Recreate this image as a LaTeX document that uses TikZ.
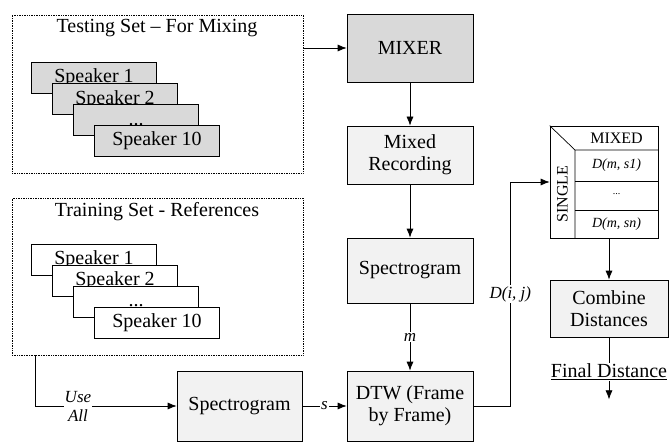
\documentclass[tikz,border=0pt]{standalone}
\usepackage{fontspec}
\setmainfont{LiberationSerif-Regular.ttf}[ItalicFont=LiberationSerif-Italic.ttf, BoldFont=LiberationSerif-Bold.ttf]
\usetikzlibrary{arrows.meta}
\definecolor{darkfill}{gray}{0.85}
\definecolor{lightfill}{gray}{0.95}
\newcommand\spkdots{...}
\tikzset{
  block/.style={draw, fill=lightfill, minimum width=126pt, minimum height=65pt, align=center, inner sep=2pt},
  spk/.style={draw, fill=white, minimum width=125pt, minimum height=31pt, inner sep=0pt, text height=14pt, text depth=4pt},
  setbox/.style={draw, densely dotted, minimum width=291pt, minimum height=158pt},
  lbl/.style={fill=white, align=center, font=\itshape\fontsize{17}{19}\selectfont, inner sep=1pt},
  cell/.style={font=\itshape\fontsize{14}{16}\selectfont}
}
\begin{document}
\begin{tikzpicture}[x=1pt, y=-1pt, >={Latex[length=9pt,width=7pt]}, line width=0.7pt, font=\fontsize{20}{22}\selectfont]
\useasboundingbox (0,0) rectangle (670,444);

\node[setbox] (testing) at (157.5,94) {};
\node (testtitle) at (157,28) {Testing Set -- For Mixing};
\foreach \t [count=\i from 0] in {Speaker 1,Speaker 2,\spkdots,Speaker 10}
  \node[spk, fill=darkfill] (ts\i) at (94+21*\i, 78+21*\i) {\t};

\node[setbox, minimum height=157pt] (training) at (157.5,276.5) {};
\node (traintitle) at (157,212) {Training Set - References};
\foreach \t [count=\i from 0] in {Speaker 1,Speaker 2,\spkdots,Speaker 10}
  \node[spk] (tr\i) at (94+21*\i, 259.5+21*\i) {\t};

\node[block, fill=darkfill, minimum height=68pt] (mixer) at (410,48) {MIXER};
\node[block, minimum height=58pt] (mixed) at (410,155) {Mixed\\Recording};
\node[block] (spec1) at (410,270.5) {Spectrogram};
\node[block, minimum height=70pt] (dtw) at (410,406) {DTW (Frame\\by Frame)};
\node[block, minimum width=125pt, minimum height=70pt] (spec2) at (239.5,406) {Spectrogram};
\node[block, minimum width=118pt, minimum height=57pt] (combine) at (609,308.5) {Combine\\Distances};
\node[inner sep=1pt] (final) at (609,372) {\underline{Final Distance}};

\node[draw, minimum width=108pt, minimum height=112pt] (table) at (604,182) {};
\coordinate (corner) at (575,150);
\draw (table.north west) -- (corner) (corner) -- (corner |- table.south) (corner) -- (corner -| table.east);
\draw (575,181) -- (table.east |- 0,181) (575,210) -- (table.east |- 0,210);
\node[font=\fontsize{16}{18}\selectfont] (mixhead) at (616.5,138) {MIXED};
\node[cell] (d1) at (616.5,165.5) {D(m, s1)};
\node[cell, font=\fontsize{10}{12}\selectfont] (d2) at (616.5,194) {...};
\node[cell] (dn) at (616.5,224) {D(m, sn)};
\node[rotate=90, font=\fontsize{16}{18}\selectfont] (single) at (562.5,194) {SINGLE};

\draw[->] (testing.east |- mixer.west) -- (mixer.west);
\draw[->] (mixer) -- (mixed);
\draw[->] (mixed) -- (spec1);
\draw[->] (spec1) -- node[lbl] {m} (dtw);
\draw[->] (spec2) -- node[lbl] {s} (dtw);
\draw[->] ([xshift=24pt]training.south west) |- node[lbl, pos=0.65] {Use\\All} (spec2.west);
\draw[->] (dtw.east) -- ++(37,0) |- node[lbl, pos=0.25] {D(i, j)} (table.west);
\draw[->] (combine.north |- table.south) -- (combine.north);
\draw (combine) -- (final);
\draw[->] (final.south) -- ++(0,18);

\end{tikzpicture}
\end{document}
